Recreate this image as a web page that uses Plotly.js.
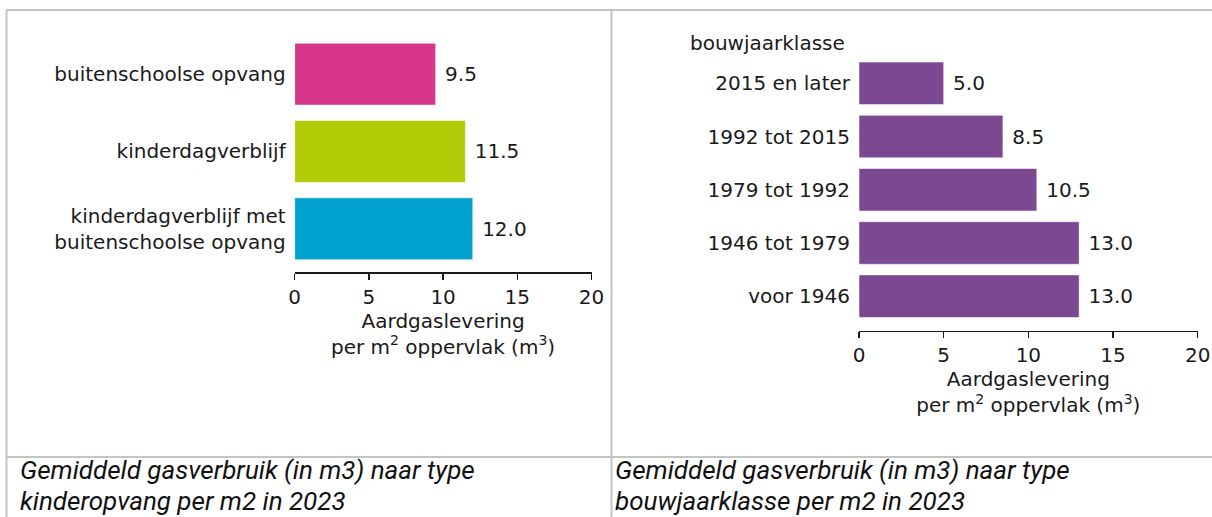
<!DOCTYPE html>
<html>
<head>
<meta charset="utf-8">
<script src="https://cdn.plot.ly/plotly-3.0.1.min.js"></script>
<style>
  html, body { margin: 0; padding: 0; background: #ffffff; }
  #chart { width: 1212px; height: 517px; }
</style>
</head>
<body>
<div id="chart"></div>
<script>
// ---- data ----
const kinderopvangTypes = ['buitenschoolse opvang', 'kinderdagverblijf', 'kinderdagverblijf met<br>buitenschoolse opvang'];
const kinderopvangValues = [9.5, 11.5, 12.0];
const bouwjaarklassen = ['2015 en later', '1992 tot 2015', '1979 tot 1992', '1946 tot 1979', 'voor 1946'];
const bouwjaarValues = [5.0, 8.5, 10.5, 13.0, 13.0];
const xTickVals = [0, 5, 10, 15, 20];
const xAxisTitle = 'Aardgaslevering<br>per m<sup>2</sup> oppervlak (m<sup>3</sup>)';
const yAxisTitleRight = 'bouwjaarklasse';
const captionLeft = ['Gemiddeld gasverbruik (in m3) naar type', 'kinderopvang per m2 in 2023'];
const captionRight = ['Gemiddeld gasverbruik (in m3) naar type', 'bouwjaarklasse per m2 in 2023'];

// ---- helpers (pixel -> paper) ----
const W = 1212, H = 517;
const px = x => x / W;
const py = y => (H - y) / H;

const FONT = 'DejaVu Sans, sans-serif';
const INK = '#1a1a1a';
const GRID = '#c4c4c4';

const traces = [
  {
    type: 'bar', orientation: 'h',
    x: kinderopvangValues, y: kinderopvangTypes,
    xaxis: 'x', yaxis: 'y',
    marker: { color: ['#d7368a', '#afcb05', '#00a1cd'], line: { color: 'rgba(255,255,255,0.55)', width: 1 } },
    texttemplate: '\u00a0%{x:.1f}', textposition: 'outside', cliponaxis: false,
    textfont: { family: FONT, size: 20, color: INK },
    hoverinfo: 'skip', showlegend: false
  },
  {
    type: 'bar', orientation: 'h',
    x: bouwjaarValues, y: bouwjaarklassen,
    xaxis: 'x2', yaxis: 'y2',
    marker: { color: '#7b4891', line: { color: 'rgba(255,255,255,0.55)', width: 1 } },
    texttemplate: '\u00a0%{x:.1f}', textposition: 'outside', cliponaxis: false,
    textfont: { family: FONT, size: 20, color: INK },
    hoverinfo: 'skip', showlegend: false
  }
];

const xAxisCommon = {
  range: [0, 20], tickvals: xTickVals, ticktext: xTickVals.map(String),
  showgrid: false, zeroline: false,
  showline: true, linecolor: INK, linewidth: 1.5,
  ticks: 'outside', ticklen: 6, tickwidth: 1.5, tickcolor: INK,
  tickfont: { family: FONT, size: 20, color: INK },
  automargin: false, fixedrange: true
};
const yAxisCommon = {
  type: 'category', showgrid: false, zeroline: false, showline: false,
  ticks: '', ticklabelstandoff: 8,
  tickfont: { family: FONT, size: 20, color: INK },
  automargin: false, fixedrange: true
};

const lineShape = (x0, y0, x1, y1) => ({
  type: 'line', xref: 'paper', yref: 'paper', x0, y0, x1, y1,
  line: { color: GRID, width: 2 }
});

const captionAnn = (text, x, y) => ({
  xref: 'paper', yref: 'paper', x: px(x), y: py(y), xanchor: 'left', yanchor: 'middle',
  text, showarrow: false, align: 'left',
  font: { family: 'Roboto, sans-serif', size: 26, color: '#111111', style: 'italic' }
});

const layout = {
  width: W, height: H, autosize: false,
  margin: { l: 0, r: 0, t: 0, b: 0, pad: 0 },
  paper_bgcolor: '#ffffff', plot_bgcolor: '#ffffff',
  bargap: 0.2,
  xaxis: Object.assign({}, xAxisCommon, {
    domain: [px(294.7), px(591.5)], anchor: 'y',
    title: { text: xAxisTitle, font: { family: FONT, size: 20, color: INK }, standoff: 3 }
  }),
  yaxis: Object.assign({}, yAxisCommon, {
    domain: [py(272), py(27.8)], anchor: 'x',
    categoryorder: 'array', categoryarray: kinderopvangTypes,
    range: [2.559, -0.6]
  }),
  xaxis2: Object.assign({}, xAxisCommon, {
    domain: [px(859), px(1197.7)], anchor: 'y2',
    title: { text: xAxisTitle, font: { family: FONT, size: 20, color: INK }, standoff: 3 }
  }),
  yaxis2: Object.assign({}, yAxisCommon, {
    domain: [py(330.5), py(51.4)], anchor: 'x2',
    categoryorder: 'array', categoryarray: bouwjaarklassen,
    range: [4.645, -0.6]
  }),
  shapes: [
    lineShape(px(6), py(10), 1, py(10)),
    lineShape(px(6.5), py(10), px(6.5), 0),
    lineShape(px(611.5), py(10), px(611.5), 0),
    lineShape(px(6), py(457), 1, py(457))
  ],
  annotations: [
    {
      xref: 'paper', yref: 'paper', x: px(688), y: py(43), xanchor: 'left', yanchor: 'middle',
      text: yAxisTitleRight, showarrow: false,
      font: { family: FONT, size: 20, color: INK }
    },
    captionAnn(captionLeft[0], 18, 470),
    captionAnn(captionLeft[1], 18, 501),
    captionAnn(captionRight[0], 613, 470),
    captionAnn(captionRight[1], 613, 501)
  ]
};

Plotly.newPlot('chart', traces, layout, { staticPlot: true, displayModeBar: false, responsive: false });
</script>
</body>
</html>
